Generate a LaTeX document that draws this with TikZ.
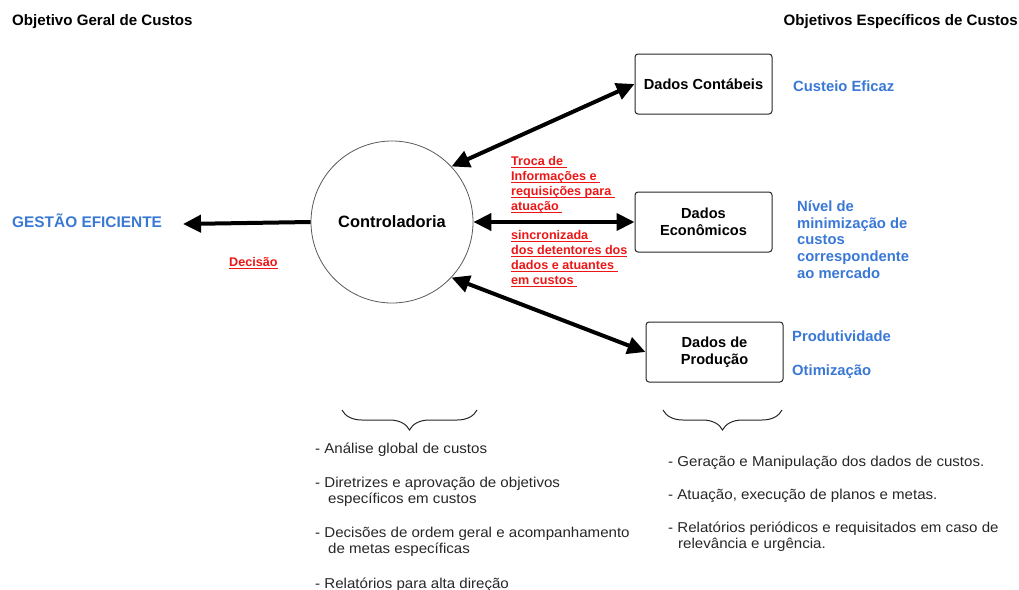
\documentclass[tikz,border=0pt]{standalone}
\usepackage{fontspec}
\setmainfont{Liberation Sans}
\newfontfamily\listfont[FakeStretch=1.055]{Liberation Sans}
\usetikzlibrary{arrows.meta,decorations.pathreplacing}

\definecolor{lblblue}{RGB}{58,120,214}
\definecolor{lblred}{RGB}{236,22,22}
\definecolor{ringgray}{RGB}{90,90,90}

% underline at a fixed depth below the baseline, crossing descenders
\newcommand\redline[1]{\setbox0\hbox{#1}\rlap{\rule[-2.2pt]{\wd0}{1pt}}\box0}

\begin{document}
\begin{tikzpicture}[x=1pt,y=-1pt,
  >={Triangle[length=18pt,width=17pt]},
  hdr/.style={font=\bfseries\fontsize{15.1}{17}\selectfont, inner sep=0pt},
  bluelbl/.style={text=lblblue, font=\bfseries\fontsize{14.8}{16.8}\selectfont, align=left, inner sep=0pt},
  redlbl/.style={text=lblred, font=\bfseries\fontsize{12.6}{15}\selectfont, align=left, inner sep=0pt},
  datbox/.style={draw=black!85, line width=1pt, rounded corners=3pt, minimum width=137, minimum height=60,
    font=\bfseries\fontsize{14.6}{16.7}\selectfont, align=center, inner sep=0pt},
  listtxt/.style={font=\listfont\fontsize{14.3}{16.5}\selectfont, align=left, inner sep=0pt, text=black!85},
  flow/.style={line width=4pt, draw=black},
  bracestyle/.style={draw=black!85, line width=1pt, decorate, decoration={brace, amplitude=20pt}}
]
\useasboundingbox (0,0) rectangle (1019,589);

% headings
\node[hdr, anchor=base west] (hleft) at (12,25.3) {Objetivo Geral de Custos};
\node[hdr, anchor=base east] (hright) at (1018,25.3) {Objetivos Específicos de Custos};

% central process and data sources
\node[circle, draw=ringgray, line width=0.8pt, minimum size=162, inner sep=0pt,
      font=\bfseries\fontsize{16.4}{19}\selectfont] (ctrl) at (392,222) {Controladoria};
\node[datbox] (cont) at (703.5,84) {Dados Contábeis};
\node[datbox] (econ) at (703.5,222) {Dados\\Econômicos};
\node[datbox] (prod) at (714.5,352) {Dados de\\Produção};

% goal on the left
\node[bluelbl, anchor=base west, font=\bfseries\fontsize{15.4}{18}\selectfont] (gestao) at (12,227.6) {GESTÃO EFICIENTE};
\coordinate (gtip) at (183,224);

% connectors
\draw[flow, ->] (ctrl.west) -- (gtip);
\draw[flow, <->] (ctrl.43) -- (cont.west);
\draw[flow, <->] (ctrl.east) -- (econ.west);
\draw[flow, <->] (ctrl.-43) -- (prod.west);

% red annotations (multi-line nodes are placed by the baseline of their last line)
\node[redlbl, anchor=base west] (decisao) at (229,266.6) {\redline{Decisão}};
\node[redlbl, anchor=base west] (troca) at (511,210.3)
  {\redline{Troca de\ }\\\redline{Informações e\ }\\\redline{requisições para\ }\\\redline{atuação\ }};
\node[redlbl, anchor=base west] (sinc) at (511,284.6)
  {\redline{sincronizada\ }\\\redline{dos detentores dos}\\\redline{dados e atuantes\ }\\\redline{em custos\ }};

% specific goals
\node[bluelbl, anchor=base west] (custeio) at (793,91.3) {Custeio Eficaz};
\node[bluelbl, anchor=base west] (nivel) at (797,278.5)
  {Nível de\\minimização de\\custos\\correspondente\\ao mercado};
\node[bluelbl, anchor=base west] (produt) at (792,341.3) {Produtividade};
\node[bluelbl, anchor=base west] (otim) at (792,375.3) {Otimização};

% braces
\draw[bracestyle] (477,410) -- (342,410);
\draw[bracestyle] (782,410) -- (663,410);

% responsibilities of the controller
\node[listtxt, anchor=base west] (l1) at (315,453) {- Análise global de custos};
\node[listtxt, anchor=base west] (l2) at (315,503.5)
  {- Diretrizes e aprovação de objetivos\\\hspace*{13pt}específicos em custos};
\node[listtxt, anchor=base west] (l3) at (315,553.5)
  {- Decisões de ordem geral e acompanhamento\\\hspace*{13pt}de metas específicas};
\node[listtxt, anchor=base west] (l4) at (315,588) {- Relatórios para alta direção};

% responsibilities of the data areas
\node[listtxt, anchor=base west] (r1) at (668,466) {- Geração e Manipulação dos dados de custos.};
\node[listtxt, anchor=base west] (r2) at (668,499) {- Atuação, execução de planos e metas.};
\node[listtxt, anchor=base west] (r3) at (668,548.5)
  {- Relatórios periódicos e requisitados em caso de\\\hspace*{10pt}relevância e urgência.};
\end{tikzpicture}
\end{document}
